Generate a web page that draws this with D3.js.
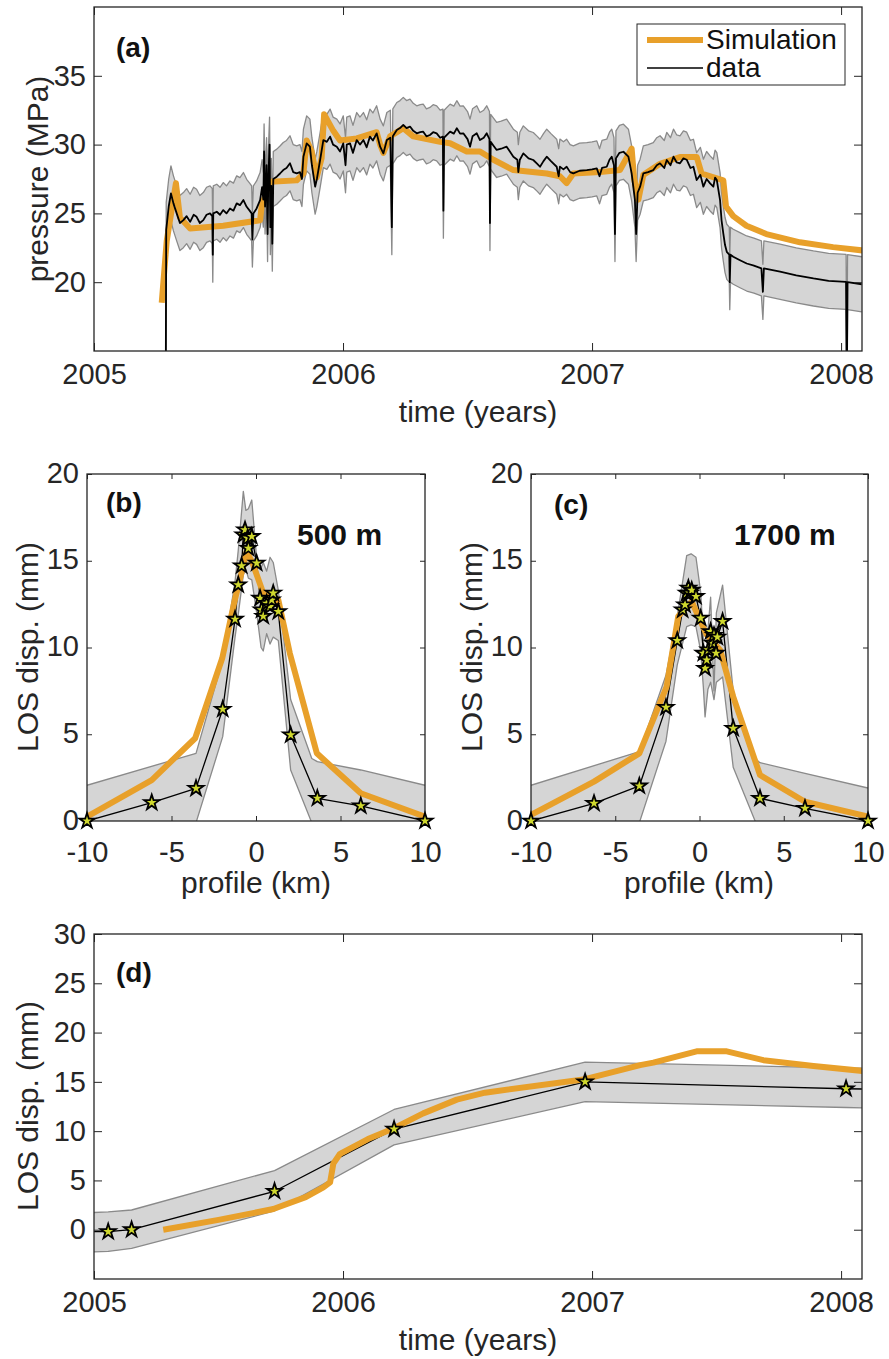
<!DOCTYPE html>
<html><head><meta charset="utf-8">
<script src="https://cdnjs.cloudflare.com/ajax/libs/d3/7.8.5/d3.min.js"></script>
<style>
body{margin:0;background:#fff}
svg{display:block}
</style>
</head><body>
<svg id="c" width="889" height="1359"></svg>
<script>
// ---------------- DATA ----------------
const yearTicks = [2005, 2006, 2007, 2008];
const pressureTicks = [20, 25, 30, 35];
const profileTicks = [-10, -5, 0, 5, 10];
const losProfileTicks = [0, 5, 10, 15, 20];
const losTimeTicks = [0, 5, 10, 15, 20, 25, 30];

// (a) pressure data (black) and its uncertainty
const pressureTime = [2005.288,2005.290,2005.300,2005.309,2005.319,2005.332,2005.345,2005.359,2005.372,2005.386,2005.400,2005.412,2005.425,2005.439,2005.452,2005.466,2005.475,2005.477,2005.479,2005.493,2005.506,2005.519,2005.532,2005.546,2005.560,2005.573,2005.586,2005.600,2005.613,2005.625,2005.633,2005.636,2005.640,2005.653,2005.667,2005.675,2005.680,2005.683,2005.687,2005.693,2005.697,2005.700,2005.705,2005.708,2005.712,2005.716,2005.720,2005.734,2005.747,2005.760,2005.773,2005.787,2005.800,2005.814,2005.827,2005.835,2005.841,2005.854,2005.867,2005.875,2005.888,2005.895,2005.908,2005.921,2005.935,2005.948,2005.960,2005.975,2005.988,2006.001,2006.010,2006.015,2006.028,2006.040,2006.055,2006.068,2006.082,2006.095,2006.108,2006.120,2006.135,2006.149,2006.162,2006.176,2006.190,2006.196,2006.200,2006.216,2006.229,2006.242,2006.255,2006.269,2006.282,2006.296,2006.310,2006.322,2006.335,2006.349,2006.362,2006.376,2006.390,2006.401,2006.403,2006.406,2006.430,2006.445,2006.457,2006.470,2006.483,2006.500,2006.510,2006.520,2006.537,2006.550,2006.565,2006.577,2006.588,2006.590,2006.593,2006.605,2006.617,2006.635,2006.657,2006.670,2006.684,2006.700,2006.704,2006.710,2006.724,2006.745,2006.764,2006.780,2006.791,2006.805,2006.818,2006.835,2006.858,2006.866,2006.871,2006.885,2006.898,2006.912,2006.925,2006.950,2006.979,2007.000,2007.019,2007.030,2007.040,2007.059,2007.070,2007.079,2007.088,2007.092,2007.096,2007.110,2007.126,2007.146,2007.159,2007.172,2007.177,2007.183,2007.193,2007.206,2007.225,2007.246,2007.260,2007.273,2007.290,2007.300,2007.315,2007.327,2007.340,2007.353,2007.367,2007.380,2007.395,2007.407,2007.420,2007.435,2007.447,2007.460,2007.474,2007.487,2007.494,2007.501,2007.514,2007.520,2007.527,2007.534,2007.541,2007.551,2007.553,2007.556,2007.567,2007.594,2007.621,2007.650,2007.680,2007.686,2007.690,2007.755,2007.820,2007.889,2007.950,2008.020,2008.023,2008.026,2008.083];
const pressureData = [12,23.8,25.5,26.45,25.73,25.0,24.3,24.51,24.8,24.39,24.9,24.75,24.3,24.51,24.9,25.0,24.8,22.0,25.0,25.12,24.9,25.24,25.0,25.36,25.2,25.73,25.6,25.97,25.48,25.2,25.0,23.1,25.0,25.36,25.97,26.9,26.0,29.5,25.5,28.5,23.5,27.5,30.0,24.0,27.0,22.8,27.5,27.67,27.9,28.15,28.3,28.64,28.0,27.91,28.0,27.5,29.12,30.09,29.85,28.5,26.94,27.5,28.88,30.33,30.2,30.58,30.0,29.85,29.5,30.09,28.5,30.0,30.09,29.4,30.33,30.0,30.33,29.8,30.58,30.3,30.82,29.85,29.36,30.33,30.5,24.0,30.6,31.06,31.2,31.43,31.2,31.31,31.0,30.82,30.9,30.94,30.6,30.7,30.9,30.82,30.5,30.58,25.2,30.5,30.94,30.8,31.19,30.8,30.82,30.4,29.85,30.6,30.82,30.33,30.5,30.82,30.4,24.3,30.2,29.9,29.61,29.7,29.85,29.5,29.12,28.9,28.0,28.9,29.36,29.0,28.88,28.6,28.39,28.8,29.12,28.8,28.39,27.7,28.4,28.2,28.39,28.0,27.91,28.1,28.15,28.2,28.27,27.7,28.3,28.39,28.9,29.12,28.5,23.5,29.0,29.4,29.48,29.12,27.91,26.0,23.5,26.5,26.94,27.91,28.0,28.15,28.5,28.64,28.3,28.88,28.5,29.12,28.7,28.64,29.0,28.9,28.3,28.39,27.42,27.8,26.94,27.5,27.18,26.94,27.6,27.42,25.97,24.5,23.54,22.7,22.21,22.0,20.0,22.0,21.85,21.6,21.36,21.2,21.0,19.3,21.0,20.76,20.5,20.27,20.1,20.02,12,20.0,19.85];
const pressureErr = 2.0;

// (a) simulation (orange)
const simTime = [2005.272,2005.292,2005.329,2005.345,2005.386,2005.519,2005.667,2005.673,2005.707,2005.814,2005.841,2005.854,2005.874,2005.894,2005.914,2005.924,2005.961,2005.988,2006.055,2006.135,2006.149,2006.162,2006.189,2006.242,2006.282,2006.390,2006.430,2006.497,2006.550,2006.604,2006.684,2006.818,2006.871,2006.898,2006.925,2007.032,2007.112,2007.159,2007.169,2007.186,2007.206,2007.273,2007.353,2007.420,2007.440,2007.527,2007.538,2007.567,2007.620,2007.700,2007.835,2007.968,2008.090];
const simPressure = [18.5,23.0,27.2,24.7,23.9,24.1,24.5,25.5,27.3,27.4,27.9,30.3,29.5,27.6,29.0,32.2,31.0,30.3,30.45,30.9,30.0,29.4,30.6,31.2,30.6,30.2,30.1,29.5,29.5,28.9,28.15,27.9,27.7,27.2,27.9,28.0,28.15,29.7,27.5,26.0,27.8,28.6,29.1,29.1,27.9,27.4,25.5,24.8,24.1,23.5,22.9,22.55,22.3];

// (b) 500 m profile
const profB_x = [-10,-6.17,-3.55,-1.97,-1.24,-1.05,-0.85,-0.75,-0.65,-0.5,-0.45,-0.25,0.04,0.24,0.33,0.43,0.63,0.83,0.93,1.02,1.32,2.05,3.63,6.2,10];
const profB_y = [0,1.06,1.88,6.44,11.63,13.61,14.71,16.49,16.78,16.3,15.72,16.4,14.86,12.84,12.17,11.8,12.55,12.36,12.74,13.13,12.07,4.96,1.31,0.87,0];
const bandB_x = [-10,-3.55,-1.97,-1.24,-1.05,-0.75,-0.6,-0.45,-0.25,0.04,0.3,0.43,0.63,0.83,1.02,1.32,2.05,3.3,3.63,6.2,10];
const bandB_up = [2.06,3.9,9.28,13.8,15.6,19.0,17.9,18.0,18.5,15.1,14.6,14.9,14.4,15.2,14.9,13.3,7.0,3.6,3.42,2.94,2.06];
const bandB_lo = [-2.0,-0.1,4.86,10.6,11.9,14.2,14.5,14.0,13.9,12.0,10.0,9.8,10.8,10.2,10.6,10.4,2.94,-0.1,-0.4,-1.2,-2.0];
const simB_x = [-10,-6.17,-3.6,-2.0,-1.3,-0.55,-0.2,0.43,1.32,2.0,3.6,6.2,10];
const simB_y = [0.25,2.36,4.77,9.38,12.55,15.53,14.86,13.13,12.74,9.67,3.9,1.6,0.25];

// (c) 1700 m profile
const profC_x = [-10,-6.26,-3.57,-1.99,-1.32,-1.0,-0.86,-0.76,-0.66,-0.56,-0.46,-0.21,0.07,0.23,0.33,0.43,0.53,0.66,0.78,0.86,0.98,1.06,1.37,2.0,3.59,6.26,10];
const profC_y = [0,1.02,2.02,6.55,10.4,12.17,12.46,13.13,13.42,13.13,13.3,12.94,11.69,9.67,8.8,9.28,9.86,10.92,10.25,10.7,9.67,10.6,11.5,5.34,1.31,0.73,0];
const bandC_x = [-10,-3.57,-1.99,-1.32,-0.76,-0.5,-0.21,0.07,0.23,0.33,0.5,0.66,0.86,1.0,1.37,2.0,3.3,3.59,6.26,10];
const bandC_up = [2.06,4.0,8.4,11.8,15.3,15.4,15.2,13.2,10.5,9.0,11.0,12.9,7.5,12.0,13.6,7.5,3.6,3.36,2.75,1.9];
const bandC_lo = [-2.0,-0.1,4.6,9.0,11.2,11.3,11.2,9.8,7.7,6.0,7.6,8.0,7.0,8.0,8.3,3.1,0.0,-0.3,-1.2,-2.0];
const simC_x = [-10,-6.26,-3.57,-1.95,-1.26,-0.46,0.02,0.43,1.22,2.0,3.59,6.26,10];
const simC_y = [0.35,2.27,3.9,7.75,11.8,12.65,11.6,10.73,9.86,7.17,2.65,1.11,0.25];

// (d) LOS displacement time series
const losTime  = [2004.95,2005.057,2005.151,2005.725,2006.205,2006.972,2008.020,2008.15];
const losData  = [-0.2,-0.2,0.0,3.9,10.2,15.0,14.3,14.25];
const losUpper = [1.7,1.8,2.0,6.0,12.2,17.0,16.4,16.4];
const losLower = [-2.3,-2.2,-1.9,1.9,8.6,13.0,12.4,12.3];
const simLosTime = [2005.278,2005.500,2005.720,2005.850,2005.921,2005.948,2005.961,2005.988,2006.100,2006.205,2006.322,2006.457,2006.570,2006.972,2007.193,2007.246,2007.420,2007.541,2007.688,2007.889,2008.090];
const simLosData = [0.0,1.0,2.1,3.3,4.3,4.8,6.7,7.7,9.2,10.3,11.8,13.2,13.9,15.27,16.7,16.95,18.1,18.1,17.2,16.6,16.1];

// ---------------- STYLE ----------------
const FONT = '"Liberation Sans", Arial, Helvetica, sans-serif';
const INK = '#262626';
const ORANGE = '#E8A02A';
const BANDFILL = '#d5d5d5';
const BANDEDGE = '#8a8a8a';
const TICK_FS = 29, LABEL_FS = 30;

const svg = d3.select('#c');
svg.append('rect').attr('width', 889).attr('height', 1359).attr('fill', '#fff');

function panel(cfg) {
  const x = d3.scaleLinear().domain(cfg.xd).range([cfg.l, cfg.r]);
  const y = d3.scaleLinear().domain(cfg.yd).range([cfg.b, cfg.t]);
  svg.append('clipPath').attr('id', 'clip' + cfg.id)
    .append('rect').attr('x', cfg.l).attr('y', cfg.t).attr('width', cfg.r - cfg.l).attr('height', cfg.b - cfg.t);
  const g = svg.append('g');
  const plot = g.append('g').attr('clip-path', `url(#clip${cfg.id})`);
  return {cfg, x, y, g, plot};
}

function axes(p) {
  const c = p.cfg, fmt = d => String(d);
  const style = sel => {
    sel.attr('font-family', null).attr('font-size', null);
    sel.select('.domain').remove();
    sel.selectAll('line').attr('stroke', INK).attr('stroke-width', 1);
    sel.selectAll('text').attr('fill', INK).style('font-family', FONT).style('font-size', TICK_FS + 'px');
  };
  p.g.append('g').attr('transform', `translate(0,${c.b})`)
    .call(d3.axisBottom(p.x).tickValues(c.xt).tickSize(-c.tl).tickPadding(c.xpad).tickFormat(fmt)).call(style);
  p.g.append('g').attr('transform', `translate(0,${c.t})`)
    .call(d3.axisTop(p.x).tickValues(c.xt).tickSize(-c.tl).tickFormat('')).call(style);
  const ly = p.g.append('g').attr('transform', `translate(${c.l},0)`)
    .call(d3.axisLeft(p.y).tickValues(c.yt).tickSize(-c.tl).tickPadding(8).tickFormat(fmt)).call(style);
  ly.selectAll('text').attr('dy', c.ydy || '0.32em');
  p.g.append('g').attr('transform', `translate(${c.r},0)`)
    .call(d3.axisRight(p.y).tickValues(c.yt).tickSize(-c.tl).tickFormat('')).call(style);
  p.g.append('rect').attr('x', c.l).attr('y', c.t).attr('width', c.r - c.l).attr('height', c.b - c.t)
    .attr('fill', 'none').attr('stroke', INK).attr('stroke-width', 1.3);
  // axis labels
  p.g.append('text').attr('x', c.xlx).attr('y', c.xly).attr('text-anchor', 'middle')
    .style('font-family', FONT).style('font-size', LABEL_FS + 'px').attr('fill', INK).text(c.xlabel);
  p.g.append('text').attr('transform', `translate(${c.ylx},${c.yly}) rotate(-90)`).attr('text-anchor', 'middle')
    .style('font-family', FONT).style('font-size', LABEL_FS + 'px').attr('fill', INK).text(c.ylabel);
}

function label(txt, x, y, fs) {
  svg.append('text').attr('x', x).attr('y', y).style('font-family', FONT).style('font-size', fs + 'px')
    .style('font-weight', 'bold').attr('fill', '#111').text(txt);
}

function band(p, xs, lo, hi) {
  const idx = d3.range(xs.length);
  p.plot.append('path').datum(idx)
    .attr('d', d3.area().x(i => p.x(xs[i])).y0(i => p.y(lo[i])).y1(i => p.y(hi[i])))
    .attr('fill', BANDFILL).attr('stroke', 'none');
  [lo, hi].forEach(arr => {
    p.plot.append('path').datum(idx)
      .attr('d', d3.line().x(i => p.x(xs[i])).y(i => p.y(arr[i])))
      .attr('fill', 'none').attr('stroke', BANDEDGE).attr('stroke-width', 1.3).attr('stroke-linejoin', 'round');
  });
}

function line(p, xs, ys, color, w) {
  p.plot.append('path').datum(d3.range(xs.length))
    .attr('d', d3.line().x(i => p.x(xs[i])).y(i => p.y(ys[i])))
    .attr('fill', 'none').attr('stroke', color).attr('stroke-width', w)
    .attr('stroke-linejoin', 'round').attr('stroke-linecap', 'butt');
}

function stars(p, xs, ys) {
  const sym = d3.symbol().type(d3.symbolStar).size(72)();
  svg.append('g').selectAll('path').data(d3.range(xs.length)).join('path')
    .filter(i => xs[i] >= p.x.domain()[0] && xs[i] <= p.x.domain()[1])
    .attr('transform', i => `translate(${p.x(xs[i])},${p.y(ys[i])})`)
    .attr('d', sym).attr('fill', '#cfd82e').attr('stroke', '#000').attr('stroke-width', 1.8)
    .attr('stroke-linejoin', 'miter');
}

// ---------------- PANEL (a) ----------------
const pa = panel({id: 'a', l: 94, r: 862, t: 7, b: 351, xd: [2005, 2008.084], yd: [15, 40],
  xt: yearTicks, yt: pressureTicks, tl: 8, xpad: 12,
  xlabel: 'time (years)', xlx: 478, xly: 422, ylabel: 'pressure (MPa)', ylx: 48, yly: 179});
band(pa, pressureTime, pressureData.map(v => v - pressureErr), pressureData.map(v => v + pressureErr));
line(pa, simTime, simPressure, ORANGE, 6);
line(pa, pressureTime, pressureData, '#000', 1.8);
axes(pa);
label('(a)', 116, 57, 28);
// legend
const lg = svg.append('g');
lg.append('rect').attr('x', 637).attr('y', 24).attr('width', 208).attr('height', 61)
  .attr('fill', '#fff').attr('stroke', INK).attr('stroke-width', 1);
lg.append('line').attr('x1', 647).attr('x2', 703).attr('y1', 40).attr('y2', 40).attr('stroke', ORANGE).attr('stroke-width', 6);
lg.append('line').attr('x1', 647).attr('x2', 703).attr('y1', 68).attr('y2', 68).attr('stroke', '#000').attr('stroke-width', 1.5);
lg.append('text').attr('x', 706).attr('y', 49).style('font-family', FONT).style('font-size', '28px').attr('fill', '#111').text('Simulation');
lg.append('text').attr('x', 706).attr('y', 77).style('font-family', FONT).style('font-size', '28px').attr('fill', '#111').text('data');

// ---------------- PANEL (b) ----------------
const pb = panel({id: 'b', l: 87, r: 425, t: 474, b: 821, xd: [-10, 10], yd: [0, 20],
  xt: profileTicks, yt: losProfileTicks, tl: 5, xpad: 20, ydy: '0.28em',
  xlabel: 'profile (km)', xlx: 256, xly: 893, ylabel: 'LOS disp. (mm)', ylx: 38, yly: 647});
band(pb, bandB_x, bandB_lo, bandB_up);
line(pb, profB_x, profB_y, '#000', 1.3);
line(pb, simB_x, simB_y, ORANGE, 6);
axes(pb);
stars(pb, profB_x, profB_y);
label('(b)', 106, 512, 28);
label('500 m', 297, 545, 30);

// ---------------- PANEL (c) ----------------
const pc = panel({id: 'c', l: 531, r: 868, t: 474, b: 821, xd: [-10, 10], yd: [0, 20],
  xt: profileTicks, yt: losProfileTicks, tl: 5, xpad: 20, ydy: '0.28em',
  xlabel: 'profile (km)', xlx: 699, xly: 893, ylabel: 'LOS disp. (mm)', ylx: 482, yly: 647});
band(pc, bandC_x, bandC_lo, bandC_up);
line(pc, profC_x, profC_y, '#000', 1.3);
line(pc, simC_x, simC_y, ORANGE, 6);
axes(pc);
stars(pc, profC_x, profC_y);
label('(c)', 554, 514, 28);
label('1700 m', 734, 545, 30);

// ---------------- PANEL (d) ----------------
const pd = panel({id: 'd', l: 94, r: 862, t: 934, b: 1279, xd: [2005, 2008.084], yd: [-5, 30],
  xt: yearTicks, yt: losTimeTicks, tl: 8, xpad: 12,
  xlabel: 'time (years)', xlx: 478, xly: 1350, ylabel: 'LOS disp. (mm)', ylx: 38, yly: 1106});
band(pd, losTime, losLower, losUpper);
line(pd, losTime, losData, '#000', 1.3);
line(pd, simLosTime, simLosData, ORANGE, 6);
axes(pd);
stars(pd, losTime, losData);
label('(d)', 116, 982, 28);
</script>
</body></html>
